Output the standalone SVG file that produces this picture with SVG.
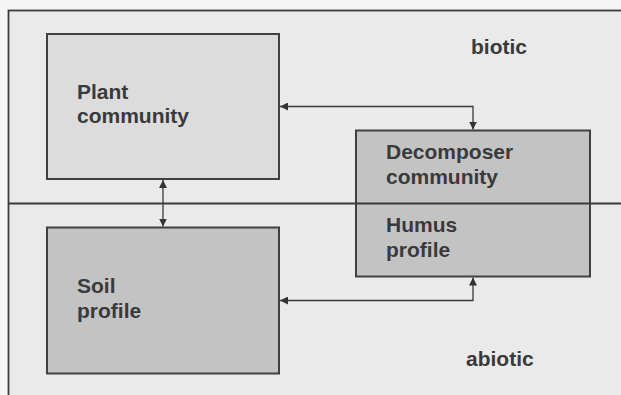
<svg xmlns="http://www.w3.org/2000/svg" width="621" height="395" viewBox="0 0 621 395">
  <defs>
    <marker id="arrow" viewBox="0 0 10 10" refX="10" refY="5" markerWidth="8" markerHeight="8" markerUnits="userSpaceOnUse" orient="auto-start-reverse">
      <path d="M0,0 L10,5 L0,10 Z" fill="#333"/>
    </marker>
    <style>
      .frame { fill: #eaeaea; stroke: #3c3c3c; stroke-width: 1.8; }
      .box { stroke: #404040; stroke-width: 2; }
      .light { fill: #dcdcdc; }
      .dark { fill: #c3c3c3; }
      .label { font-family: "Liberation Sans", Arial, sans-serif; font-size: 21px; font-weight: bold; fill: #3a3a3a; }
      .conn { fill: none; stroke: #3a3a3a; stroke-width: 1.3; }
      .divider { stroke: #3a3a3a; stroke-width: 2; }
    </style>
  </defs>

  <!-- page background and open frame -->
  <rect x="0" y="0" width="621" height="395" fill="#f5f5f5"/>
  <rect x="8.5" y="10.5" width="640" height="400" class="frame"/>

  <!-- biotic / abiotic boundary -->
  <line x1="8.5" y1="203.5" x2="621" y2="203.5" class="divider"/>

  <text x="471" y="54" class="label">biotic</text>
  <text x="466" y="366" class="label">abiotic</text>

  <g id="plant-community">
    <rect x="47" y="34" width="232" height="145" class="box light"/>
    <text x="77" y="99" class="label">Plant</text>
    <text x="77" y="123" class="label">community</text>
  </g>

  <g id="soil-profile">
    <rect x="47" y="227.5" width="232" height="146" class="box dark"/>
    <text x="77" y="293" class="label">Soil</text>
    <text x="77" y="318" class="label">profile</text>
  </g>

  <g id="decomposer-humus">
    <rect x="356" y="130.5" width="234" height="146" class="box dark"/>
    <line x1="356" y1="203.5" x2="590" y2="203.5" class="divider"/>
    <text x="386" y="159" class="label">Decomposer</text>
    <text x="386" y="184" class="label">community</text>
    <text x="386" y="232" class="label">Humus</text>
    <text x="386" y="257" class="label">profile</text>
  </g>

  <g id="connectors">
    <!-- plant community <-> soil profile -->
    <line x1="163" y1="180" x2="163" y2="226.5" class="conn" marker-start="url(#arrow)" marker-end="url(#arrow)"/>
    <!-- plant community <-> decomposer community -->
    <polyline points="280,106.5 473,106.5 473,129.5" class="conn" marker-start="url(#arrow)" marker-end="url(#arrow)"/>
    <!-- soil profile <-> humus profile -->
    <polyline points="280,300.5 473,300.5 473,277.5" class="conn" marker-start="url(#arrow)" marker-end="url(#arrow)"/>
  </g>
</svg>
